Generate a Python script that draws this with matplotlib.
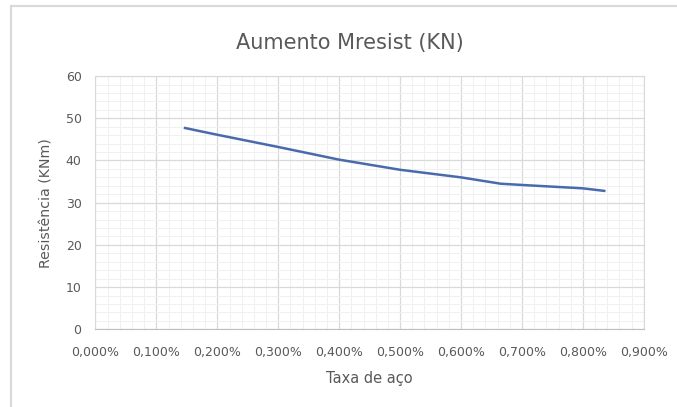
import matplotlib.pyplot as plt
from matplotlib.ticker import MultipleLocator, FuncFormatter, AutoMinorLocator
from matplotlib.lines import Line2D

# dados
taxa = [0.147, 0.2, 0.3, 0.4, 0.5, 0.6, 0.665, 0.7, 0.8, 0.835]
resist = [47.7, 46.1, 43.2, 40.2, 37.8, 36.0, 34.5, 34.2, 33.4, 32.8]

cinza = '#595959'

fig = plt.figure(figsize=(6.77, 4.07), dpi=100)
ax = fig.add_axes([0.141, 0.191, 0.810, 0.622])

ax.plot(taxa, resist, color='#4a6aae', linewidth=1.8)

ax.set_xlim(0, 0.9)
ax.set_ylim(0, 60)
ax.xaxis.set_major_locator(MultipleLocator(0.1))
ax.yaxis.set_major_locator(MultipleLocator(10))
ax.xaxis.set_minor_locator(AutoMinorLocator(5))
ax.yaxis.set_minor_locator(AutoMinorLocator(5))
ax.xaxis.set_major_formatter(FuncFormatter(lambda v, p: f'{v:.3f}%'.replace('.', ',')))

ax.grid(True, which='major', color='#d9d9d9', linewidth=0.9)
ax.grid(True, which='minor', color='#f0f0f0', linewidth=0.7)
ax.set_axisbelow(True)

for s in ax.spines.values():
    s.set_color('#d9d9d9')
ax.spines['bottom'].set_color('#bfbfbf')
ax.tick_params(which='both', length=0, colors=cinza, labelsize=9)
ax.tick_params(axis='x', pad=12)
ax.tick_params(axis='y', pad=10)

fig.text(350 / 677, 1 - 43 / 407, 'Aumento Mresist (KN)', color=cinza, fontsize=15,
         ha='center', va='center')
ax.set_xlabel('Taxa de aço', color=cinza, fontsize=10.5, labelpad=9)
ax.set_ylabel('Resistência (KNm)', color=cinza, fontsize=10.2, labelpad=9)

# moldura do gráfico (só esquerda e topo aparecem no recorte)
y_top = 1 - 5.5 / 407
x_left = 10.5 / 677
fig.add_artist(Line2D([x_left, 1], [y_top, y_top], transform=fig.transFigure, color='#d9d9d9', linewidth=1.5))
fig.add_artist(Line2D([x_left, x_left], [0, y_top], transform=fig.transFigure, color='#d9d9d9', linewidth=1.5))

fig.savefig('out.png', dpi=100)
